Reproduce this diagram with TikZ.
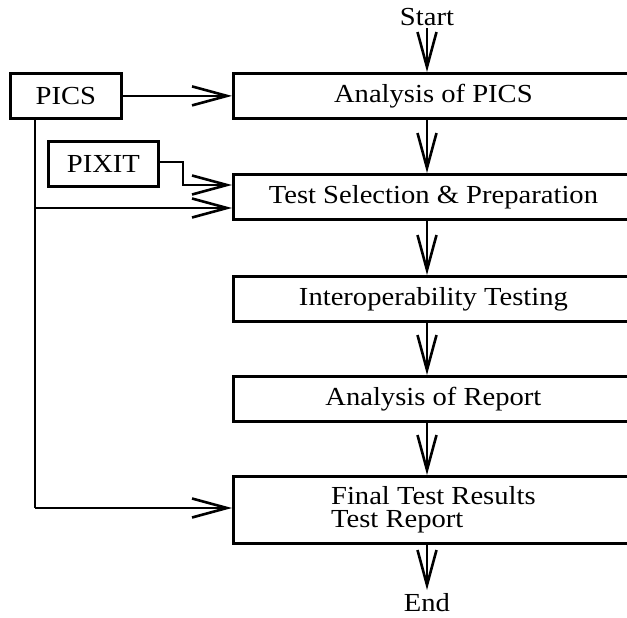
\documentclass[tikz,border=0pt]{standalone}
\usepackage{fontspec}
\setmainfont[FakeStretch=1.1]{Liberation Serif}
\usetikzlibrary{arrows.meta}
\begin{document}
\begin{tikzpicture}[x=1pt,y=-1pt,
  box/.style={draw,line width=2.8pt,anchor=north west,inner sep=0pt,font=\fontsize{26}{23.5}\selectfont},
  mainbox/.style={box,minimum width=400pt,minimum height=45pt},
  lbl/.style={font=\fontsize{26}{23.5}\selectfont,inner sep=0pt},
  conn/.style={line width=2.6pt,-{Straight Barb[length=35pt,width=19pt,line width=2.6pt]}}]
\useasboundingbox (0,0) rectangle (627,618);
\clip (0,0) rectangle (627,618);
\node[lbl] (start) at (427,17) {Start};
\node[lbl] (end) at (427,603) {End};
\node[mainbox] (a1) at (232,72) {Analysis of PICS};
\node[mainbox] (a2) at (232,173) {Test Selection \& Preparation};
\node[mainbox] (a3) at (232,275) {Interoperability Testing};
\node[mainbox] (a4) at (232,375) {Analysis of Report};
\node[mainbox,minimum height=67pt,align=left] (a5) at (232,475) {Final Test Results\\Test Report};
\node[box,minimum width=111pt,minimum height=45pt] (pics) at (9,72) {PICS};
\node[box,minimum width=110pt,minimum height=45pt] (pixit) at (47,140) {PIXIT};
\coordinate (s0) at (427,28);
\coordinate (e0) at (427,590);
\draw[conn] (s0) -- (a1.north -| s0);
\draw[conn] (a1.south -| s0) -- (a2.north -| s0);
\draw[conn] (a2.south -| s0) -- (a3.north -| s0);
\draw[conn] (a3.south -| s0) -- (a4.north -| s0);
\draw[conn] (a4.south -| s0) -- (a5.north -| s0);
\draw[conn] (a5.south -| s0) -- (e0);
\draw[conn] (pics.east) -- (a1.west);
\coordinate (px1) at (183,162);
\coordinate (px2) at (183,185);
\draw[conn] (pixit.east |- px1) -- (px1) -- (px2) -- (a2.west |- px2);
\coordinate (v0) at (35,117);
\coordinate (v1) at (35,208);
\coordinate (v2) at (35,508);
\draw[line width=2.6pt] (v0) -- (v2);
\draw[conn] (v1) -- (a2.west |- v1);
\draw[conn] (v2) -- (a5.west |- v2);
\end{tikzpicture}
\end{document}
